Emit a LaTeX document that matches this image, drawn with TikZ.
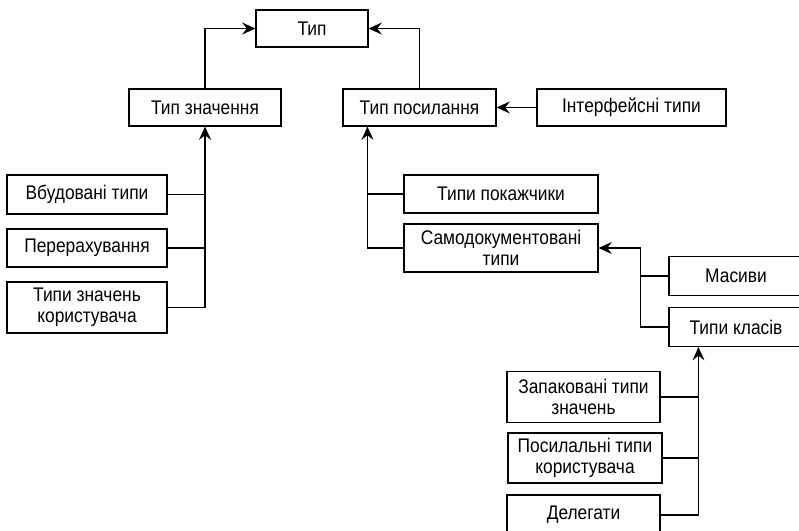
\documentclass[tikz,border=0pt]{standalone}
\usepackage{fontspec}
\setmainfont[FakeStretch=0.88]{Liberation Sans}
\usetikzlibrary{positioning,arrows.meta,calc}

\begin{document}
\begin{tikzpicture}[
  x=0.75pt, y=-0.75pt,
  font=\fontsize{14.8}{15.5}\selectfont,
  box/.style={draw, line width=0.8pt, inner sep=0pt, align=center},
  arr/.style={-{Stealth[length=10pt, width=9pt, inset=3.5pt]}, line width=1pt},
  lnk/.style={line width=1pt},
]
\useasboundingbox (0,0) rectangle (799,531);

% ---------- Top ----------
\node[box, minimum width=84pt, minimum height=27.75pt] (typ) at (312,28.5) {Тип};
\node[box, minimum width=114pt, minimum height=27.75pt] (znach) at (205,107.5) {Тип значення};
\node[box, minimum width=114.75pt, minimum height=27.75pt] (posyl) at (419.5,107.5) {Тип посилання};
\node[box, minimum width=141.75pt, minimum height=27.75pt] (interf) at (631.5,107.5) {Інтерфейсні типи};

\draw[arr] (znach.north) |- (typ.west);
\draw[arr] (posyl.north) |- (typ.east);
\draw[arr] (interf.west) -- (posyl.east);

% ---------- Value types ----------
\node[box, minimum width=120pt, minimum height=29.25pt] (vbud) at (87,194.5) {Вбудовані типи};
\node[box, minimum width=120pt, minimum height=28.5pt] (pererakh) at (87,248) {Перерахування};
\node[box, minimum width=120pt, minimum height=38.25pt] (koryst) at (87,307.5) {Типи значень\\користувача};

\draw[arr] (koryst.east) -| (znach.south);
\foreach \n in {vbud, pererakh}
  \draw[lnk] (\n.east) -- (\n.east -| znach.south);

% ---------- Reference types ----------
\node[box, minimum width=145.5pt, minimum height=28.5pt] (pokazh) at (501,194) {Типи покажчики};
\node[box, minimum width=145.5pt, minimum height=36pt] (samodok) at (501,248) {Самодокументовані\\типи};

\coordinate (rtrunk) at ($(posyl.south west)+(25,0)$);
\draw[arr] (samodok.west) -| (rtrunk);
\draw[lnk] (pokazh.west) -- (pokazh.west -| rtrunk);

% ---------- Self-describing ----------
\node[box, minimum width=100.5pt, minimum height=29.25pt] (masyvy) at (736,276) {Масиви};
\node[box, minimum width=100.5pt, minimum height=29.25pt] (klasy) at (736,327) {Типи класів};

\coordinate (strunk) at ($(samodok.east)+(42,0)$);
\draw[arr] (klasy.west) -| (strunk) -- (samodok.east);
\draw[lnk] (masyvy.west) -- (masyvy.west -| strunk);

% ---------- Class types ----------
\node[box, minimum width=114.75pt, minimum height=38.25pt] (zapak) at (583.5,397) {Запаковані типи\\значень};
\node[box, minimum width=115.5pt, minimum height=37.5pt] (posylk) at (585,458) {Посилальні типи\\користувача};
\node[box, minimum width=114.75pt, minimum height=30pt] (deleg) at (583.5,515) {Делегати};

\coordinate (ktrunk) at ($(klasy.south west)+(30,0)$);
\draw[arr] (deleg.east) -| (ktrunk);
\foreach \n in {zapak, posylk}
  \draw[lnk] (\n.east) -- (\n.east -| ktrunk);

\end{tikzpicture}
\end{document}
